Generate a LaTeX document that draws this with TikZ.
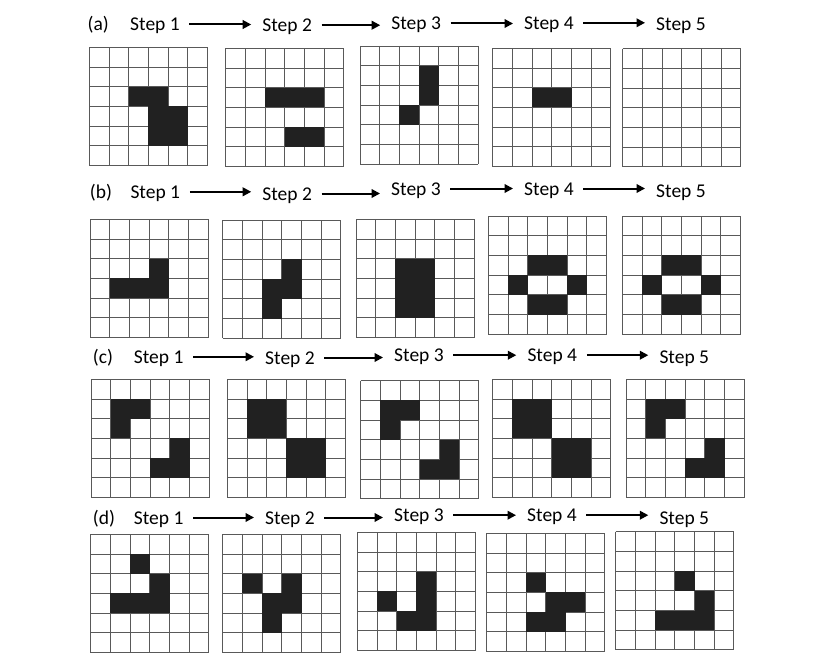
\documentclass[tikz,border=0pt]{standalone}
\usepackage{fontspec}
\setmainfont{Carlito}
\usepackage{tikz}
\usetikzlibrary{arrows.meta}

\tikzset{
  gridline/.style={draw=black!65, line width=0.9pt},
  cellfill/.style={fill=black!87},
  steplabel/.style={anchor=base, inner sep=0pt, text height=13pt, text depth=0pt,
    font=\fontsize{19.5}{23}\selectfont},
  steparrow/.style={line width=2pt, -{Triangle[length=8.5pt,width=8.5pt]},
    shorten <=9.5pt, shorten >=11pt},
}

% 6x6 grid at top-left (#1,#2), black cells #3 as col/row
\newcommand{\lifegrid}[3]{%
  \begin{scope}[shift={(#1,#2)}]
    \foreach \i in {0,...,6} {
      \draw[gridline] (\i*19.7,0) -- (\i*19.7,118.2);
      \draw[gridline] (0,\i*19.7) -- (118.2,\i*19.7);
    }
    \if\relax\detokenize{#3}\relax\else
      \foreach \c/\r in {#3}
        \fill[cellfill] (\c*19.7,\r*19.7) rectangle ++(19.7,19.7);
    \fi
  \end{scope}}

\begin{document}
\begin{tikzpicture}[x=1pt,y=-1pt]
  \useasboundingbox[fill=white] (0,0) rectangle (815,669);

  % (a)
  \node[steplabel] (la) at (98.3,31) {(a)};
  \node[steplabel] (a1) at (155,31) {Step 1};
  \node[steplabel] (a2) at (287.2,31.7) {Step 2};
  \node[steplabel] (a3) at (416.2,30) {Step 3};
  \node[steplabel] (a4) at (549,29.3) {Step 4};
  \node[steplabel] (a5) at (681,31) {Step 5};
  \draw[steparrow] (a1.east) -- (a1.east -| a2.west);
  \draw[steparrow] (a2.east) -- (a2.east -| a3.west);
  \draw[steparrow] (a3.east) -- (a3.east -| a4.west);
  \draw[steparrow] (a4.east) -- (a4.east -| a5.west);
  \lifegrid{89.3}{47.3}{2/2,3/2,3/3,4/3,3/4,4/4}
  \lifegrid{225.7}{48.3}{2/2,3/2,4/2,3/4,4/4}
  \lifegrid{360}{46}{3/1,3/2,2/3}
  \lifegrid{492.7}{48.3}{2/2,3/2}
  \lifegrid{622.7}{48.7}{}

  % (b)
  \node[steplabel] (lb) at (101,198.3) {(b)};
  \node[steplabel] (b1) at (155.3,198.3) {Step 1};
  \node[steplabel] (b2) at (287.2,200) {Step 2};
  \node[steplabel] (b3) at (416,195) {Step 3};
  \node[steplabel] (b4) at (549,195) {Step 4};
  \node[steplabel] (b5) at (681,197.3) {Step 5};
  \draw[steparrow] (b1.east) -- (b1.east -| b2.west);
  \draw[steparrow] (b2.east) -- (b2.east -| b3.west);
  \draw[steparrow] (b3.east) -- (b3.east -| b4.west);
  \draw[steparrow] (b4.east) -- (b4.east -| b5.west);
  \lifegrid{90}{219.3}{3/2,1/3,2/3,3/3}
  \lifegrid{222.7}{220}{3/2,3/3,2/3,2/4}
  \lifegrid{356}{219.3}{2/2,3/2,2/3,3/3,2/4,3/4}
  \lifegrid{488.3}{216}{2/2,3/2,1/3,4/3,2/4,3/4}
  \lifegrid{622.3}{216}{2/2,3/2,1/3,4/3,2/4,3/4}

  % (c)
  \node[steplabel] (lc) at (103,363.3) {(c)};
  \node[steplabel] (c1) at (158.7,363.3) {Step 1};
  \node[steplabel] (c2) at (290,364) {Step 2};
  \node[steplabel] (c3) at (419,361.7) {Step 3};
  \node[steplabel] (c4) at (552.3,361.7) {Step 4};
  \node[steplabel] (c5) at (684.3,363.3) {Step 5};
  \draw[steparrow] (c1.east) -- (c1.east -| c2.west);
  \draw[steparrow] (c2.east) -- (c2.east -| c3.west);
  \draw[steparrow] (c3.east) -- (c3.east -| c4.west);
  \draw[steparrow] (c4.east) -- (c4.east -| c5.west);
  \lifegrid{91}{379.3}{1/1,2/1,1/2,4/3,3/4,4/4}
  \lifegrid{227.3}{379.3}{1/1,2/1,1/2,2/2,3/3,4/3,3/4,4/4}
  \lifegrid{360.7}{380.7}{1/1,2/1,1/2,4/3,3/4,4/4}
  \lifegrid{492.7}{379.3}{1/1,2/1,1/2,2/2,3/3,4/3,3/4,4/4}
  \lifegrid{626}{379.3}{1/1,2/1,1/2,4/3,3/4,4/4}

  % (d)
  \node[steplabel] (ld) at (104,524) {(d)};
  \node[steplabel] (d1) at (158.7,524) {Step 1};
  \node[steplabel] (d2) at (290,524) {Step 2};
  \node[steplabel] (d3) at (419,521.7) {Step 3};
  \node[steplabel] (d4) at (552,521.7) {Step 4};
  \node[steplabel] (d5) at (684.3,524) {Step 5};
  \draw[steparrow] (d1.east) -- (d1.east -| d2.west);
  \draw[steparrow] (d2.east) -- (d2.east -| d3.west);
  \draw[steparrow] (d3.east) -- (d3.east -| d4.west);
  \draw[steparrow] (d4.east) -- (d4.east -| d5.west);
  \lifegrid{90.7}{534.3}{2/1,3/2,1/3,2/3,3/3}
  \lifegrid{222.7}{534.3}{1/2,3/2,2/3,3/3,2/4}
  \lifegrid{357.3}{532.3}{3/2,3/3,1/3,2/4,3/4}
  \lifegrid{486.7}{533.3}{2/2,3/3,4/3,2/4,3/4}
  \lifegrid{615.7}{531.7}{3/2,4/3,2/4,3/4,4/4}
\end{tikzpicture}
\end{document}
